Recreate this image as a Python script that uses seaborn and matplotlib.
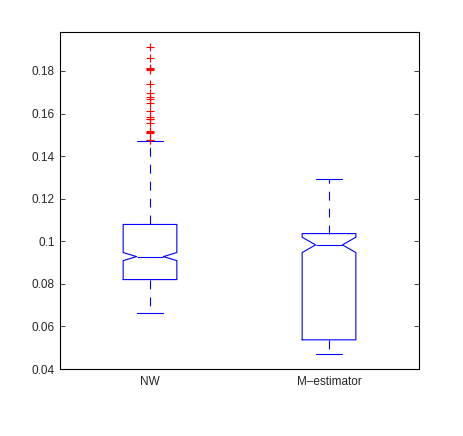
import matplotlib
matplotlib.use("Agg")
import matplotlib.pyplot as plt
import seaborn as sns
import numpy as np

sns.set_style("ticks")
plt.rcParams['font.family'] = ['Liberation Sans', 'DejaVu Sans']
plt.rcParams['lines.scale_dashes'] = False

categories = ["NW", "M\u2013estimator"]
whislo = [0.0663, 0.0470]
q1 = [0.0820, 0.0537]
med = [0.0928, 0.0983]
q3 = [0.1079, 0.1036]
whishi = [0.1471, 0.1292]
cilo = [0.0909, 0.0947]
cihi = [0.0947, 0.1019]
nw_outliers = [0.1912, 0.1863, 0.1813, 0.1808, 0.1805, 0.1739, 0.1695, 0.1679,
               0.1667, 0.1648, 0.1613, 0.1582, 0.1576, 0.1573, 0.1554, 0.1517,
               0.1514, 0.1507, 0.1478, 0.1475]
m_outliers = []
fliers = [nw_outliers, m_outliers]
ytick_vals = [0.04, 0.06, 0.08, 0.1, 0.12, 0.14, 0.16, 0.18]
ytick_labels = ["0.04", "0.06", "0.08", "0.1", "0.12", "0.14", "0.16", "0.18"]

stats = []
for i, name in enumerate(categories):
    stats.append(dict(label=name, whislo=whislo[i], q1=q1[i], med=med[i], q3=q3[i],
                      whishi=whishi[i], cilo=cilo[i], cihi=cihi[i],
                      fliers=np.array(fliers[i])))

fig = plt.figure(figsize=(4.63, 4.36), dpi=100)
ax = fig.add_axes([60.5 / 463, 1 - 369 / 436, (418.5 - 60.5) / 463, (369 - 32) / 436])

blue = "#0000ff"
ax.bxp(stats, positions=[1, 2], widths=0.3, shownotches=True, showfliers=True,
       boxprops=dict(color=blue, linewidth=0.8),
       whiskerprops=dict(color=blue, linewidth=0.8, linestyle=(0, (6.4, 5.8))),
       capprops=dict(color=blue, linewidth=0.8),
       medianprops=dict(color=blue, linewidth=0.8),
       flierprops=dict(marker="+", markeredgecolor="red", markerfacecolor="none",
                       markersize=6, markeredgewidth=0.8, linestyle="none"))

ax.set_xlim(0.5, 2.5)
ax.set_ylim(0.04, 0.1983)
ax.set_yticks(ytick_vals)
ax.set_yticklabels(ytick_labels)
ax.set_xticks([1, 2])
ax.set_xticklabels(categories)
ax.tick_params(axis="y", direction="in", right=True, length=3.5, width=0.6,
               labelsize=8.5, pad=4)
ax.tick_params(axis="x", length=0, labelsize=8.5, pad=5)
for s in ax.spines.values():
    s.set_visible(True)
    s.set_linewidth(0.8)
    s.set_color("black")

fig.savefig("out.png", dpi=100)
